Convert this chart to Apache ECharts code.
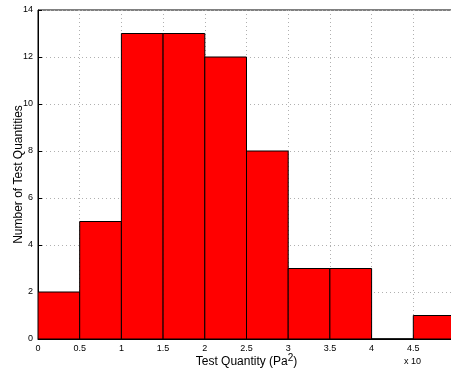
<!DOCTYPE html>
<html><head><meta charset="utf-8">
<script src="https://cdn.jsdelivr.net/npm/echarts@6/dist/echarts.min.js"></script>
<style>html,body{margin:0;padding:0;background:#fff}#c{width:451px;height:374px}</style>
</head><body><div id="c"></div>
<script>
var binStarts = [0, 0.5, 1, 1.5, 2, 2.5, 3, 3.5, 4, 4.5];
var binWidth = 0.5;
var counts = [2, 5, 13, 13, 12, 8, 3, 3, 0, 1];
var xTicks = [0, 0.5, 1, 1.5, 2, 2.5, 3, 3.5, 4, 4.5, 5];
var yTicks = [0, 2, 4, 6, 8, 10, 12, 14];

var data = binStarts.map(function(s, i){ return [s, s + binWidth, counts[i]]; });
var chart = echarts.init(document.getElementById('c'), null, {renderer:'canvas'});
var font = 'Liberation Sans, Arial, sans-serif';
chart.setOption({
  animation:false,
  grid:{left:38, top:10, width:417, height:329, containLabel:false, outerBoundsMode:'none', show:true, borderColor:'#000', borderWidth:1, backgroundColor:'transparent'},
  xAxis:{type:'value', min:0, max:5, interval:0.5,
    axisLine:{lineStyle:{color:'#000'}},
    axisTick:{inside:true, length:4, lineStyle:{color:'#000'}},
    axisLabel:{color:'#000', fontSize:9, fontFamily:font, margin:5, formatter:function(v){return v===5?'':String(v);}},
    splitLine:{show:true, lineStyle:{color:'#b0b0b0', type:[1,3]}},
    name:'Test Quantity (Pa{s|2})', nameLocation:'middle', nameGap:14, nameMoveOverlap:false,
    nameTextStyle:{color:'#000', fontSize:12, fontFamily:font,
      rich:{s:{fontSize:10, fontFamily:font, color:'#000', verticalAlign:'top', padding:[0,0,7,0]}}}
  },
  yAxis:{type:'value', min:0, max:14, interval:2,
    axisLine:{lineStyle:{color:'#000'}},
    axisTick:{inside:true, length:4, lineStyle:{color:'#000'}},
    axisLabel:{color:'#000', fontSize:9, fontFamily:font, margin:5},
    splitLine:{show:true, lineStyle:{color:'#b0b0b0', type:[1,3]}},
    name:'Number of Test Quantities', nameLocation:'middle', nameGap:13, nameMoveOverlap:false,
    nameTextStyle:{color:'#000', fontSize:12, fontFamily:font}
  },
  series:[{type:'custom', data:data, clip:true,
    renderItem:function(params, api){
      var p0 = api.coord([api.value(0), 0]);
      var p1 = api.coord([api.value(1), api.value(2)]);
      return {type:'rect', shape:{x:p0[0], y:p1[1], width:p1[0]-p0[0], height:p0[1]-p1[1]},
        style:{fill:'#ff0000', stroke:'#000', lineWidth:1}};
    },
    encode:{x:[0,1], y:2}
  }],
  graphic:[{type:'text', left:404, top:357, style:{text:'x 10', fontSize:9, fontFamily:font, fill:'#000'}}]
});
</script></body></html>
